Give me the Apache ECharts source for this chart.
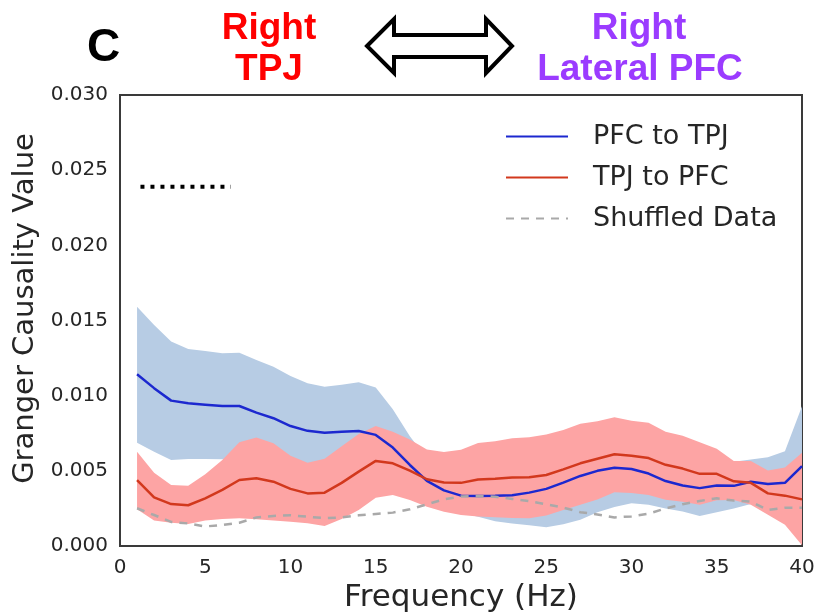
<!DOCTYPE html>
<html lang="en">
<head>
  <meta charset="utf-8">
  <title>Granger causality, Right TPJ / Right Lateral PFC</title>
  <script type="text/javascript" src="https://fastly.jsdelivr.net/npm/echarts@6/dist/echarts.min.js"></script>
  <style type="text/css">
    * {
      margin: 0;
      padding: 0;
    }
    html, body, #chart {
      width: 819px;
      height: 616px;
      overflow: hidden;
      background: #fff;
    }
  </style>
</head>
<body>
  <div id="chart"></div>
  <script type="text/javascript">
    // values, in units of 1e-3
    var freq = [1, 2, 3, 4, 5, 6, 7, 8, 9, 10, 11, 12, 13, 14, 15, 16, 17, 18, 19, 20,
      21, 22, 23, 24, 25, 26, 27, 28, 29, 30, 31, 32, 33, 34, 35, 36, 37, 38, 39, 40];
    var pfcToTpj = [11.42, 10.5, 9.67, 9.49, 9.40, 9.31, 9.31, 8.87, 8.50, 7.98, 7.66, 7.54, 7.60, 7.65, 7.39, 6.55, 5.39, 4.33, 3.70, 3.35,
      3.33, 3.35, 3.38, 3.55, 3.80, 4.22, 4.66, 5.0, 5.2, 5.12, 4.82, 4.32, 4.02, 3.85, 4.02, 4.0, 4.27, 4.13, 4.2, 5.32];
    var pfcLow = [6.87, 6.27, 5.72, 5.79, 5.79, 5.77, 5.6, 5.5, 5.3, 5.0, 4.9, 4.8, 4.9, 5.0, 4.8, 4.2, 3.6, 2.9, 2.5, 2.2,
      1.95, 1.65, 1.5, 1.38, 1.25, 1.45, 1.75, 2.25, 2.6, 2.85, 2.75, 2.5, 2.3, 2.0, 2.25, 2.5, 2.8, 2.8, 2.9, 3.0];
    var pfcHigh = [15.92, 14.7, 13.6, 13.1, 12.97, 12.82, 12.86, 12.37, 11.93, 11.31, 10.82, 10.6, 10.73, 10.9, 10.55, 9.1, 7.3, 5.8, 5.3, 4.9,
      4.6, 4.6, 4.7, 4.9, 5.2, 5.6, 6.0, 6.4, 6.6, 6.5, 6.2, 5.7, 5.3, 5.2, 5.4, 5.6, 5.75, 5.9, 6.3, 9.3];
    var tpjToPfc = [4.39, 3.24, 2.79, 2.71, 3.17, 3.73, 4.39, 4.5, 4.28, 3.8, 3.5, 3.55, 4.2, 4.95, 5.66, 5.5, 5.01, 4.44, 4.22, 4.2,
      4.42, 4.48, 4.55, 4.57, 4.72, 5.1, 5.5, 5.8, 6.1, 6.0, 5.85, 5.4, 5.15, 4.8, 4.8, 4.3, 4.2, 3.5, 3.35, 3.1];
    var tpjLow = [2.44, 1.69, 1.55, 1.46, 1.69, 1.8, 1.84, 1.78, 1.69, 1.62, 1.51, 1.33, 1.8, 2.4, 3.21, 3.39, 3.06, 2.61, 2.28, 2.06,
      1.97, 1.92, 1.86, 1.85, 2.03, 2.4, 2.75, 3.1, 3.58, 3.52, 3.4, 3.08, 2.95, 2.75, 3.05, 3.06, 2.75, 2.08, 1.42, 0.05];
    var tpjHigh = [6.27, 4.88, 4.06, 4.01, 4.77, 5.72, 6.9, 7.21, 6.83, 6.01, 5.54, 5.81, 6.63, 7.45, 7.98, 7.6, 7.08, 6.42, 6.25, 6.4,
      6.85, 6.97, 7.17, 7.23, 7.42, 7.72, 8.14, 8.3, 8.56, 8.33, 8.2, 7.6, 7.33, 6.9, 6.47, 5.65, 5.66, 5.03, 5.22, 6.2];
    var shuffled = [2.51, 2.06, 1.6, 1.5, 1.3, 1.4, 1.55, 1.9, 2.0, 2.04, 1.95, 1.85, 1.9, 2.04, 2.13, 2.22, 2.44, 2.77, 3.1, 3.3,
      3.32, 3.28, 3.13, 2.98, 2.78, 2.55, 2.25, 2.1, 1.9, 1.97, 2.15, 2.5, 2.78, 3.0, 3.17, 3.02, 2.95, 2.4, 2.55, 2.55];
    // black dotted marker in the upper left
    var markerX = [1.2, 6.5];
    var markerY = [23.9, 23.9];

    var font = 'DejaVu Sans';
    var textColor = '#262626';

    function pairs(xs, ys) {
      return xs.map(function (x, i) { return [x, ys[i]]; });
    }

    // filled band between low and high, drawn as one polygon
    function band(name, low, high, color, z) {
      return {
        type: 'custom',
        name: name,
        silent: true,
        z: z,
        data: [0],
        renderItem: function (params, api) {
          var pts = [];
          for (var i = 0; i < freq.length; i++) pts.push(api.coord([freq[i], high[i]]));
          for (var j = freq.length - 1; j >= 0; j--) pts.push(api.coord([freq[j], low[j]]));
          return { type: 'polygon', shape: { points: pts }, style: { fill: color } };
        }
      };
    }

    function line(name, ys, color, type, width) {
      return {
        type: 'line',
        name: name,
        data: pairs(freq, ys),
        symbol: 'none',
        z: 5,
        lineStyle: { color: color, width: width, type: type },
        itemStyle: { color: color }
      };
    }

    var option = {
      animation: false,
      backgroundColor: '#fff',
      grid: {
        left: 120, right: 17, top: 95, bottom: 70,
        outerBoundsMode: 'none',
        show: true, borderColor: '#3a3a3a', borderWidth: 2
      },
      legend: {
        data: ['PFC to TPJ', 'TPJ to PFC', 'Shuffled Data'],
        orient: 'vertical',
        left: 500, top: 118,
        itemWidth: 62, itemHeight: 20, itemGap: 14,
        itemStyle: { opacity: 0 },
        textStyle: { fontFamily: font, fontSize: 27, color: textColor, padding: [0, 0, 0, 20] }
      },
      xAxis: {
        type: 'value', min: 0, max: 40, interval: 5,
        name: 'Frequency (Hz)', nameLocation: 'middle', nameGap: 34,
        nameTextStyle: { fontFamily: font, fontSize: 31, color: textColor },
        axisLine: { show: false }, axisTick: { show: false }, splitLine: { show: false },
        axisLabel: { fontFamily: font, fontSize: 20, color: textColor, margin: 12 }
      },
      yAxis: {
        type: 'value', min: 0, max: 30, interval: 5,
        name: 'Granger Causality Value', nameLocation: 'middle', nameGap: 73,
        nameTextStyle: { fontFamily: font, fontSize: 29, color: textColor, padding: [0, 0, 0, 24] },
        axisLine: { show: false }, axisTick: { show: false }, splitLine: { show: false },
        axisLabel: {
          fontFamily: font, fontSize: 20, color: textColor, margin: 12,
          formatter: function (v) { return (v / 1000).toFixed(3); }
        }
      },
      series: [
        band('PFC band', pfcLow, pfcHigh, '#b7cce4', 1),
        band('TPJ band', tpjLow, tpjHigh, '#fda4a4', 2),
        line('PFC to TPJ', pfcToTpj, '#1c28cf', 'solid', 2.5),
        line('TPJ to PFC', tpjToPfc, '#d2381d', 'solid', 2.5),
        line('Shuffled Data', shuffled, '#a9a9a9', [8, 7], 2.5),
        {
          type: 'line', name: 'marker', data: pairs(markerX, markerY),
          symbol: 'none', z: 5,
          lineStyle: { color: '#000', width: 4, type: [4, 6] }
        }
      ],
      graphic: [
        { type: 'text', left: 87, top: 25, style: { text: 'C', font: 'bold 46px "Liberation Sans"', fill: '#000' } },
        { type: 'text', x: 269, y: 29, style: { text: 'Right', font: 'bold 37px "Liberation Sans"', fill: '#ff0000', align: 'center', verticalAlign: 'middle' } },
        { type: 'text', x: 269, y: 70, style: { text: 'TPJ', font: 'bold 37px "Liberation Sans"', fill: '#ff0000', align: 'center', verticalAlign: 'middle' } },
        { type: 'text', x: 639, y: 29, style: { text: 'Right', font: 'bold 37px "Liberation Sans"', fill: '#9b3bff', align: 'center', verticalAlign: 'middle' } },
        { type: 'text', x: 640, y: 70, style: { text: 'Lateral PFC', font: 'bold 37px "Liberation Sans"', fill: '#9b3bff', align: 'center', verticalAlign: 'middle' } },
        {
          type: 'polygon',
          shape: {
            points: [[367, 46], [394, 19], [394, 35], [486, 35], [486, 19], [512, 46],
              [486, 73], [486, 57], [394, 57], [394, 73]]
          },
          style: { fill: '#fff', stroke: '#000', lineWidth: 4, lineJoin: 'miter' }
        }
      ]
    };

    var chart = echarts.init(document.getElementById('chart'), null, { renderer: 'canvas' });
    chart.setOption(option);
  </script>
</body>
</html>
